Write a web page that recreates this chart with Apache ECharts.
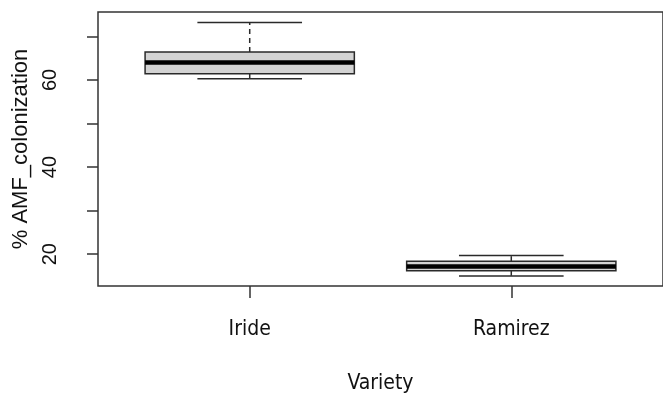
<!DOCTYPE html>
<html>
<head>
<meta charset="utf-8">
<script src="https://cdn.jsdelivr.net/npm/echarts@6/dist/echarts.min.js"></script>
<style>
html,body{margin:0;padding:0;background:#fff;}
#chart{width:663px;height:399px;}
</style>
</head>
<body>
<div id="chart"></div>
<script>
// Data
const categories = ['Iride', 'Ramirez'];
const whiskerLow = [60.3, 15.0];
const q1 = [61.4, 16.2];
const median = [64.0, 17.2];
const q3 = [66.4, 18.4];
const whiskerHigh = [73.2, 19.7];
const yTickValues = [20, 30, 40, 50, 60, 70];
const yLabelValues = [20, 40, 60];
const xAxisTitle = 'Variety';
const yAxisTitle = '% AMF_colonization';

const boxData = categories.map((c, i) => [i + 1, whiskerLow[i], q1[i], median[i], q3[i], whiskerHigh[i]]);

const chart = echarts.init(document.getElementById('chart'));
const lineCol = '#333333';
const narrowFont = '"Liberation Sans Narrow", "DejaVu Sans Condensed", "Liberation Sans", sans-serif';

chart.setOption({
  animation: false,
  backgroundColor: '#ffffff',
  grid: {
    left: 98, top: 12, right: -3, bottom: 112,
    show: true, borderColor: lineCol, borderWidth: 1.5, backgroundColor: 'transparent'
  },
  xAxis: {
    type: 'value',
    min: 0.42, max: 2.58,
    splitLine: { show: false },
    axisLine: { show: false },
    axisTick: { show: true, length: 12, customValues: [1, 2], lineStyle: { color: lineCol, width: 1.5 } },
    axisLabel: {
      customValues: [1, 2],
      formatter: v => categories[Math.round(v) - 1] || '',
      margin: 33,
      fontFamily: narrowFont,
      fontSize: 21, color: '#111'
    },
    name: xAxisTitle,
    nameLocation: 'middle',
    nameGap: 87,
    nameTextStyle: {
      fontFamily: narrowFont,
      fontSize: 21, color: '#111'
    }
  },
  yAxis: {
    type: 'value',
    min: 12.7, max: 75.6,
    splitLine: { show: false },
    axisLine: { show: false },
    axisTick: { show: true, length: 11, customValues: yTickValues, lineStyle: { color: lineCol, width: 1.5 } },
    axisLabel: {
      customValues: yLabelValues,
      rotate: 90,
      margin: 38,
      fontFamily: '"Liberation Sans", Arial, sans-serif',
      fontSize: 20, color: '#111'
    },
    name: yAxisTitle,
    nameLocation: 'middle',
    nameRotate: 90,
    nameGap: 63,
    nameTextStyle: {
      fontFamily: '"Liberation Sans", Arial, sans-serif',
      fontSize: 22, color: '#111'
    }
  },
  series: [{
    type: 'custom',
    data: boxData,
    encode: { x: 0, y: [1, 2, 3, 4, 5] },
    renderItem: function (params, api) {
      const x = api.value(0);
      const lo = api.coord([x, api.value(1)]);
      const b1 = api.coord([x, api.value(2)]);
      const md = api.coord([x, api.value(3)]);
      const b3 = api.coord([x, api.value(4)]);
      const hi = api.coord([x, api.value(5)]);
      const boxW = api.size([0.8, 0])[0];
      const capW = api.size([0.4, 0])[0];
      const cx = lo[0];
      const stroke = { stroke: '#2a2a2a', lineWidth: 1.5, fill: null };
      const dashed = { stroke: '#2a2a2a', lineWidth: 1.5, lineDash: [5, 4], fill: null };
      return {
        type: 'group',
        children: [
          { type: 'line', shape: { x1: cx, y1: b3[1], x2: cx, y2: hi[1] }, style: dashed },
          { type: 'line', shape: { x1: cx, y1: b1[1], x2: cx, y2: lo[1] }, style: dashed },
          { type: 'line', shape: { x1: cx - capW / 2, y1: hi[1], x2: cx + capW / 2, y2: hi[1] }, style: stroke },
          { type: 'line', shape: { x1: cx - capW / 2, y1: lo[1], x2: cx + capW / 2, y2: lo[1] }, style: stroke },
          { type: 'rect', shape: { x: cx - boxW / 2, y: b3[1], width: boxW, height: b1[1] - b3[1] },
            style: { fill: '#d3d3d3', stroke: '#2a2a2a', lineWidth: 1.5 } },
          { type: 'line', shape: { x1: cx - boxW / 2, y1: md[1], x2: cx + boxW / 2, y2: md[1] },
            style: { stroke: '#000', lineWidth: 4.5 } }
        ]
      };
    }
  }]
});
</script>
</body>
</html>
